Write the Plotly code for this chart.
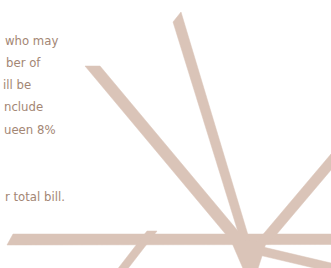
import plotly.graph_objects as go

# Text fragments visible in the reference (right-aligned)
text_lines = ["who may", "ber of", "ill be", "nclude", "ueen 8%", "r total bill."]
text_right_x = [59, 42, 32, 44, 57, 66]
text_center_y = [40, 62, 84, 106, 129, 196]

# Decorative starburst strokes: polygon vertices in canvas units
stroke_names = ["band", "ray_top", "ray_left", "ray_right", "ray_lower_right", "ray_lower_left", "hub"]
stroke_x = [
    [7, 13, 331, 331],
    [173, 181, 249.5, 240.5],
    [85, 100, 245.5, 230.5],
    [331, 331, 268.4, 254.9],
    [260, 331, 331, 260],
    [147, 157, 123, 113],
    [232, 266, 262, 258, 243],
]
stroke_y = [
    [245, 234, 234, 244.5],
    [22, 12, 240, 240],
    [66, 66, 240, 240],
    [154, 170, 244, 244],
    [246.3, 263, 272, 255.3],
    [231, 231, 275, 275],
    [243, 243, 256, 268.5, 268.5],
]

LINE_COLOR = "#dac4b8"
TEXT_COLOR = "#a38674"

fig = go.Figure()
for name, xs, ys in zip(stroke_names, stroke_x, stroke_y):
    fig.add_trace(go.Scatter(
        x=xs + [xs[0]], y=ys + [ys[0]], mode="lines", fill="toself",
        fillcolor=LINE_COLOR, line=dict(color=LINE_COLOR, width=0.5),
        hoverinfo="skip", showlegend=False, name=name,
    ))

for t, x, y in zip(text_lines, text_right_x, text_center_y):
    fig.add_annotation(
        x=x, y=y, xref="x", yref="y", text=t, showarrow=False,
        xanchor="right", yanchor="middle", borderpad=0,
        font=dict(family="DejaVu Sans Condensed, Liberation Sans Narrow, sans-serif", size=13, color=TEXT_COLOR),
    )

fig.update_xaxes(range=[0, 331], visible=False, fixedrange=True)
fig.update_yaxes(range=[268, 0], visible=False, fixedrange=True)
fig.update_layout(
    width=331, height=268, margin=dict(l=0, r=0, t=0, b=0),
    paper_bgcolor="white", plot_bgcolor="white",
)
fig.write_html(
    "out.html",
    config={"displayModeBar": False},
    post_script="document.body.style.margin='0';document.body.style.overflow='hidden';",
)
